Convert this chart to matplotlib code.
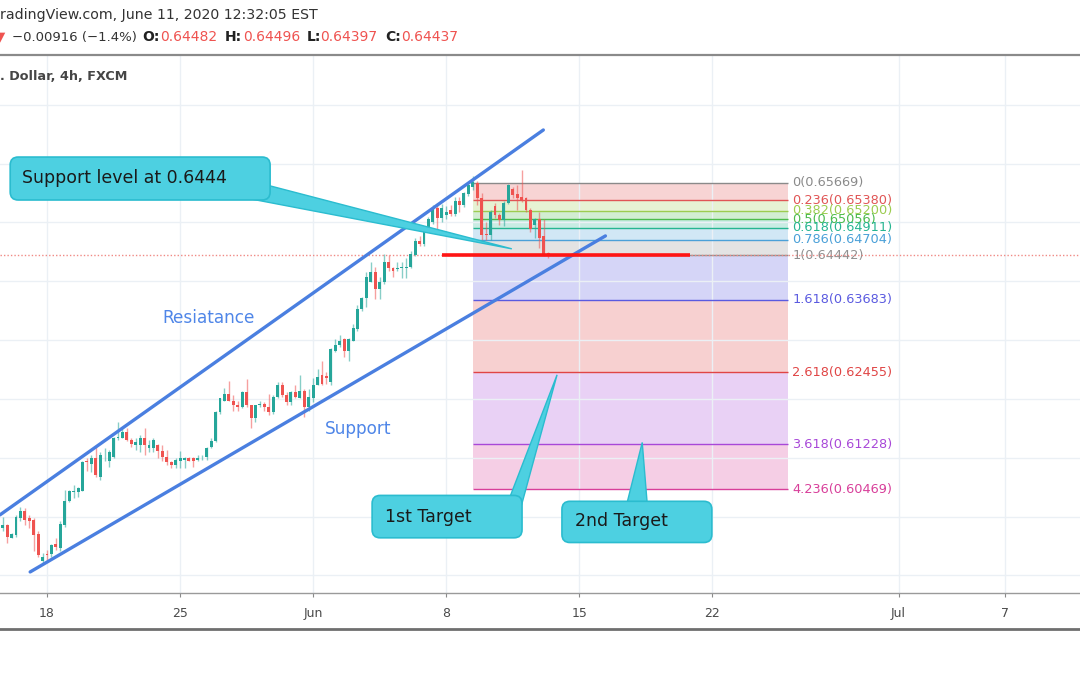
import matplotlib
matplotlib.use('Agg')
import matplotlib.pyplot as plt
from matplotlib.patches import FancyBboxPatch, Polygon
import numpy as np

# AUD/USD 4h candles, bar 0 = first bar of May 18 (30 bars per week)
bar_idx = list(range(-10, 114))
opens = [0.5981, 0.5985, 0.5964, 0.5969, 0.5997, 0.6010, 0.5998, 0.5995, 0.5971, 0.5924,
         0.5937, 0.5937, 0.5954, 0.5946, 0.5986, 0.6026, 0.6041, 0.6041, 0.6044, 0.6095,
         0.6090, 0.6099, 0.6068, 0.6104, 0.6094, 0.6102, 0.6133, 0.6134, 0.6143, 0.6131,
         0.6122, 0.6122, 0.6134, 0.6117, 0.6117, 0.6122, 0.6111, 0.6102, 0.6092, 0.6088,
         0.6095, 0.6097, 0.6100, 0.6099, 0.6097, 0.6099, 0.6102, 0.6119, 0.6128, 0.6177,
         0.6197, 0.6209, 0.6197, 0.6190, 0.6187, 0.6211, 0.6189, 0.6168, 0.6189, 0.6192,
         0.6187, 0.6177, 0.6204, 0.6224, 0.6207, 0.6194, 0.6211, 0.6202, 0.6214, 0.6187,
         0.6202, 0.6224, 0.6240, 0.6239, 0.6228, 0.6281, 0.6291, 0.6301, 0.6282, 0.6299,
         0.6318, 0.6352, 0.6372, 0.6399, 0.6415, 0.6386, 0.6398, 0.6432, 0.6422, 0.6420,
         0.6422, 0.6423, 0.6425, 0.6445, 0.6468, 0.6464, 0.6488, 0.6500, 0.6525, 0.6508,
         0.6512, 0.6521, 0.6514, 0.6537, 0.6530, 0.6549, 0.6560, 0.6567, 0.6541, 0.6481,
         0.6478, 0.6527, 0.6513, 0.6504, 0.6533, 0.6556, 0.6549, 0.6543, 0.6541, 0.6521,
         0.6496, 0.6505, 0.6477, 0.6448]
highs = [0.6000, 0.5988, 0.5973, 0.6002, 0.6017, 0.6014, 0.6002, 0.5997, 0.5975, 0.5939,
         0.5944, 0.5954, 0.5964, 0.5992, 0.6046, 0.6046, 0.6054, 0.6051, 0.6095, 0.6100,
         0.6104, 0.6119, 0.6109, 0.6117, 0.6114, 0.6136, 0.6160, 0.6151, 0.6151, 0.6134,
         0.6134, 0.6138, 0.6151, 0.6131, 0.6133, 0.6124, 0.6121, 0.6114, 0.6094, 0.6099,
         0.6111, 0.6102, 0.6102, 0.6102, 0.6104, 0.6105, 0.6119, 0.6134, 0.6179, 0.6202,
         0.6219, 0.6230, 0.6207, 0.6196, 0.6213, 0.6233, 0.6190, 0.6190, 0.6196, 0.6194,
         0.6209, 0.6206, 0.6228, 0.6228, 0.6211, 0.6213, 0.6224, 0.6241, 0.6216, 0.6216,
         0.6236, 0.6250, 0.6264, 0.6246, 0.6287, 0.6301, 0.6308, 0.6303, 0.6303, 0.6328,
         0.6360, 0.6374, 0.6416, 0.6432, 0.6425, 0.6408, 0.6446, 0.6444, 0.6425, 0.6432,
         0.6432, 0.6440, 0.6451, 0.6473, 0.6476, 0.6492, 0.6509, 0.6530, 0.6533, 0.6532,
         0.6528, 0.6530, 0.6543, 0.6543, 0.6552, 0.6567, 0.6578, 0.6570, 0.6550, 0.6500,
         0.6521, 0.6533, 0.6516, 0.6536, 0.6565, 0.6560, 0.6564, 0.6589, 0.6543, 0.6524,
         0.6508, 0.6518, 0.6506, 0.6450]
lows = [0.5975, 0.5956, 0.5963, 0.5966, 0.5993, 0.5986, 0.5981, 0.5942, 0.5932, 0.5920,
        0.5924, 0.5932, 0.5944, 0.5942, 0.5983, 0.6024, 0.6032, 0.6034, 0.6043, 0.6077,
        0.6075, 0.6068, 0.6063, 0.6094, 0.6085, 0.6100, 0.6131, 0.6133, 0.6129, 0.6119,
        0.6114, 0.6109, 0.6105, 0.6109, 0.6109, 0.6099, 0.6094, 0.6088, 0.6082, 0.6083,
        0.6083, 0.6083, 0.6094, 0.6085, 0.6095, 0.6097, 0.6097, 0.6116, 0.6126, 0.6175,
        0.6196, 0.6196, 0.6180, 0.6179, 0.6185, 0.6187, 0.6150, 0.6160, 0.6187, 0.6179,
        0.6172, 0.6175, 0.6202, 0.6204, 0.6189, 0.6190, 0.6201, 0.6201, 0.6170, 0.6179,
        0.6194, 0.6223, 0.6224, 0.6226, 0.6224, 0.6279, 0.6289, 0.6272, 0.6264, 0.6298,
        0.6316, 0.6350, 0.6357, 0.6398, 0.6369, 0.6369, 0.6396, 0.6417, 0.6408, 0.6417,
        0.6406, 0.6406, 0.6423, 0.6442, 0.6459, 0.6460, 0.6485, 0.6497, 0.6488, 0.6501,
        0.6505, 0.6510, 0.6510, 0.6518, 0.6526, 0.6545, 0.6555, 0.6530, 0.6470, 0.6470,
        0.6470, 0.6508, 0.6496, 0.6493, 0.6531, 0.6541, 0.6521, 0.6535, 0.6518, 0.6484,
        0.6474, 0.6457, 0.6443, 0.6440]
closes = [0.5985, 0.5966, 0.5971, 0.6000, 0.6009, 0.5995, 0.5993, 0.5969, 0.5935, 0.5932,
          0.5934, 0.5952, 0.5949, 0.5988, 0.6026, 0.6043, 0.6043, 0.6048, 0.6092, 0.6092,
          0.6099, 0.6070, 0.6105, 0.6105, 0.6109, 0.6134, 0.6136, 0.6143, 0.6131, 0.6124,
          0.6126, 0.6134, 0.6122, 0.6122, 0.6131, 0.6111, 0.6102, 0.6092, 0.6088, 0.6097,
          0.6099, 0.6100, 0.6095, 0.6095, 0.6100, 0.6100, 0.6117, 0.6129, 0.6177, 0.6201,
          0.6209, 0.6197, 0.6189, 0.6187, 0.6211, 0.6189, 0.6168, 0.6189, 0.6192, 0.6187,
          0.6177, 0.6204, 0.6224, 0.6207, 0.6194, 0.6211, 0.6204, 0.6214, 0.6187, 0.6204,
          0.6224, 0.6238, 0.6226, 0.6236, 0.6284, 0.6292, 0.6299, 0.6281, 0.6301, 0.6320,
          0.6352, 0.6372, 0.6408, 0.6415, 0.6386, 0.6398, 0.6432, 0.6422, 0.6418, 0.6423,
          0.6425, 0.6425, 0.6447, 0.6468, 0.6464, 0.6488, 0.6505, 0.6525, 0.6508, 0.6525,
          0.6518, 0.6514, 0.6537, 0.6530, 0.6550, 0.6563, 0.6569, 0.6541, 0.6479, 0.6478,
          0.6518, 0.6513, 0.6504, 0.6533, 0.6563, 0.6547, 0.6541, 0.6538, 0.6521, 0.6488,
          0.6505, 0.6474, 0.6445, 0.6444]

tick_pos = [0, 30, 60, 90, 120, 150, 192, 216]
tick_labels = ['18', '25', 'Jun', '8', '15', '22', 'Jul', '7']

fib_levels = [0, 0.236, 0.382, 0.5, 0.618, 0.786, 1, 1.618, 2.618, 3.618, 4.236]
fib_prices = [0.65669, 0.65380, 0.65200, 0.65056, 0.64911, 0.64704, 0.64442,
              0.63683, 0.62455, 0.61228, 0.60469]
fib_colors = ['#8a8a8a', '#e05555', '#9ccc50', '#4cbb4c', '#26b591', '#4aa0d8',
              '#909090', '#5a5ae0', '#e04545', '#a848d8', '#d83f9a']
fib_start, fib_end = 96, 167

resist_x, resist_y = [-10.6, 111.9], [0.6003, 0.6657]
support_x, support_y = [-3.8, 125.9], [0.5906, 0.6477]
level_price = 0.6444
last_close = 0.64437

UP, DOWN = '#26a69a', '#ef5350'
BLUE = '#4a7fe0'
CYAN, CYAN_EDGE = '#4dd0e1', '#2bbccf'

fig = plt.figure(figsize=(10.8, 6.75), dpi=100)
ax = fig.add_axes([0, 82 / 675, 1, 538 / 675])
ax.set_xlim(-10.6, 232.9)
ax.set_ylim(0.58702, 0.67844)

# grid / axes
ax.set_xticks(tick_pos)
ax.set_xticklabels(tick_labels)
ax.set_yticks(np.arange(0.59, 0.675, 0.01))
ax.grid(True, color='#ebf0f5', lw=1, zorder=0)
ax.tick_params(axis='y', length=0, labelleft=False)
ax.tick_params(axis='x', length=3, width=0.8, color='#8a8a8a', pad=7,
               labelsize=9, labelcolor='#4a4a4a')
for s in ['left', 'right']:
    ax.spines[s].set_visible(False)
ax.spines['top'].set_color('#8a8a8a')
ax.spines['top'].set_linewidth(1.6)
ax.spines['bottom'].set_color('#9a9a9a')
ax.spines['bottom'].set_linewidth(1.0)
fig.add_artist(plt.Line2D([0, 1], [1 - 629 / 675] * 2, color='#6f6f6f', lw=2))

# fibonacci tool
for k, (lv, pr, col) in enumerate(zip(fib_levels, fib_prices, fib_colors)):
    if k > 0:
        ax.fill_between([fib_start, fib_end], fib_prices[k - 1], pr, color=col,
                        alpha=0.25, lw=0, zorder=1)
    ax.hlines(pr, fib_start, fib_end, color=col, lw=1, zorder=2)
    ax.text(fib_end + 1, pr, f'{lv:g}({pr:.5f})', color=col, fontsize=9.3,
            va='center', ha='left', zorder=2)

# last price line
ax.axhline(last_close, color='#f08a85', lw=1, ls=(0, (1, 1.5)), zorder=2)

# candles
o, h, l, c = map(np.array, (opens, highs, lows, closes))
cols = np.where(c >= o, UP, DOWN)
ax.vlines(bar_idx, l, h, colors=cols, lw=1, alpha=0.55, zorder=3)
ax.bar(bar_idx, np.maximum(np.abs(c - o), 0.00004), bottom=np.minimum(o, c),
       width=0.66, color=cols, lw=0, zorder=4)

# channel
ax.plot(resist_x, resist_y, color=BLUE, lw=2.4, solid_capstyle='round', zorder=5)
ax.plot(support_x, support_y, color=BLUE, lw=2.4, solid_capstyle='round', zorder=5)
ax.text(25.9, 0.63375, 'Resiatance', color='#4f86e8', fontsize=12.2, va='center', zorder=5)
ax.text(62.7, 0.61489, 'Support', color='#4f86e8', fontsize=12.2, va='center', zorder=5)

# support level
ax.hlines(level_price, 89, 145, color='#ff1515', lw=2.6, zorder=6)

# callouts
asp = 4.435 / 5885


def callout(x0, x1, y0, y1, tail, text, tx, ty):
    ax.add_patch(Polygon(tail, closed=True, fc=CYAN, ec=CYAN_EDGE, lw=1, zorder=7))
    ax.add_patch(FancyBboxPatch((x0, y0), x1 - x0, y1 - y0,
                                boxstyle='round,pad=0,rounding_size=1.8',
                                mutation_aspect=asp, fc=CYAN, ec=CYAN_EDGE,
                                lw=1.2, zorder=8))
    ax.text(tx, ty, text, color='#1a1a1a', fontsize=12.5, va='center', ha='left', zorder=9)


callout(-8.3, 50.3, 0.6538, 0.6611,
        [(45.8, 0.6540), (50.3, 0.6562), (104.8, 0.6455)],
        'Support level at 0.6444', -5.6, 0.6576)
callout(73.3, 107.1, 0.5964, 0.6036,
        [(104.4, 0.6034), (107.0, 0.6020), (115.0, 0.6241)],
        '1st Target', 76.2, 0.6000)
callout(116.1, 149.9, 0.5956, 0.6026,
        [(130.8, 0.6024), (135.3, 0.6024), (134.2, 0.6126)],
        '2nd Target', 119.1, 0.5993)

# header
def ftext(xp, yp, s, size=9.6, **kw):
    fig.text(xp / 1080, 1 - yp / 675, s, va='center', ha='left', fontsize=size, **kw)


ftext(0, 15, 'radingView.com, June 11, 2020 12:32:05 EST', size=10.2, color='#333333')
ftext(-5, 37, '\u25bc', color=DOWN)
ftext(12, 37, '\u22120.00916 (\u22121.4%)', size=9.5, color='#333333')
for xl, lab, xv, val in [(142, 'O:', 160, '0.64482'), (224.5, 'H:', 243, '0.64496'),
                         (306.5, 'L:', 320, '0.64397'), (385, 'C:', 401, '0.64437')]:
    ftext(xl, 37, lab, size=10, color='#222222', fontweight='bold')
    ftext(xv, 37, val, size=10, color=DOWN)
ftext(0, 77, '. Dollar, 4h, FXCM', size=9.2, color='#454545', fontweight='bold')

fig.savefig('out.png', dpi=100)
